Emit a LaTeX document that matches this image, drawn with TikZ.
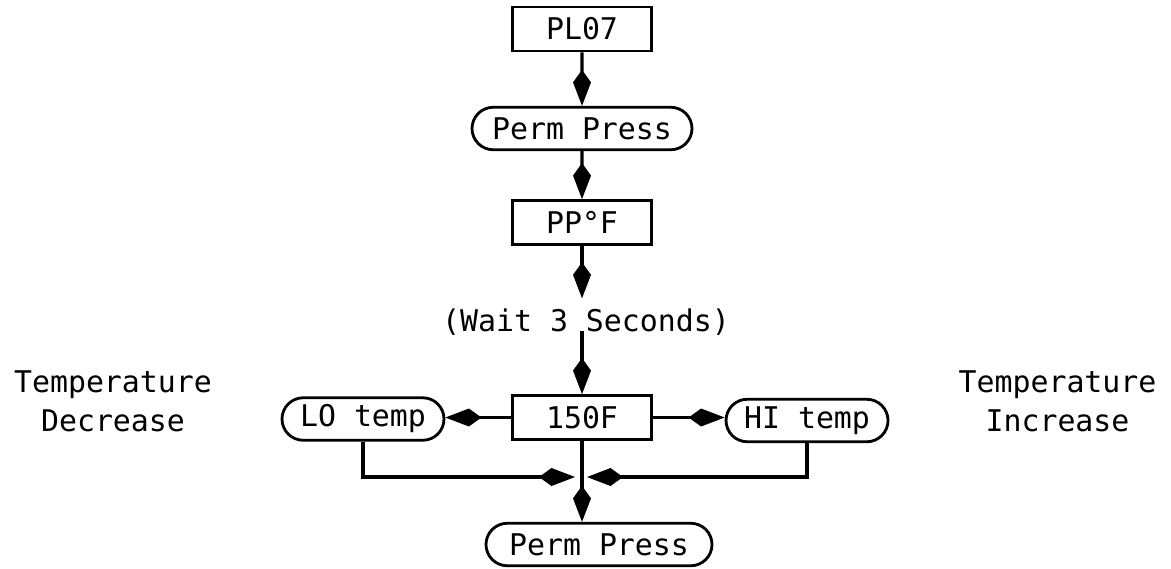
\documentclass[tikz,border=0pt]{standalone}
\usepackage{fontspec}
\setmonofont{DejaVu Sans Mono}
\usepackage{tikz}
\usetikzlibrary{arrows.meta, positioning, shapes.misc}

\begin{document}
\begin{tikzpicture}[
    box/.style={draw, line width=1.6pt, rectangle, minimum width=2.78cm, minimum height=0.88cm, inner sep=0pt, font=\ttfamily\fontsize{17}{20}\selectfont},
    pill/.style={draw, line width=1.6pt, rounded rectangle, minimum height=0.85cm, inner sep=0pt, font=\ttfamily\fontsize{17}{20}\selectfont},
    plain/.style={inner sep=0pt, align=center, font=\ttfamily\fontsize{17}{22}\selectfont},
    flow/.style={line width=1.9pt, -{Kite[length=0.72cm, width=0.36cm, inset=0.25cm]}}
]
    \useasboundingbox (0,0) rectangle (23.42,-11.36);

    % main column
    \node[box] (pl07) at (11.64,-0.58) {PL07};
    \node[pill, minimum width=4.4cm] (perm1) at (11.64,-2.57) {Perm Press};
    \node[box] (ppf) at (11.64,-4.45) {PP°F};
    \node[plain] (wait) at (11.72,-6.44) {(Wait 3 Seconds)};
    \node[box] (t150) at (11.64,-8.35) {150F};
    \node[pill, minimum width=4.52cm] (perm2) at (11.98,-10.89) {Perm Press};

    % side branches
    \node[pill, minimum width=3.24cm] (lo) at (7.26,-8.38) {LO temp};
    \node[pill, minimum width=3.24cm] (hi) at (16.14,-8.41) {HI temp};
    \node[plain] (tdec) at (2.26,-8.02) {Temperature\\ Decrease};
    \node[plain] (tinc) at (21.15,-8.02) {Temperature\\Increase};

    \coordinate (join) at (11.62,-9.54);

    % arrows
    \draw[flow] (pl07) -- (perm1);
    \draw[flow] (perm1) -- (ppf);
    \draw[flow, shorten >=0.2cm] (ppf) -- (wait.north -| ppf);
    \draw[flow, shorten <=-0.1cm] (wait.south -| t150) -- (t150);
    \draw[flow] (t150.west) -- (t150.west -| lo.east);
    \draw[flow] (t150.east) -- (t150.east -| hi.west);
    \draw[flow] (t150) -- (t150 |- perm2.north);
    \draw[flow, shorten >=0.12cm] (lo.south) |- (join);
    \draw[flow, shorten >=0.12cm] (hi.south) |- (join);
\end{tikzpicture}
\end{document}
